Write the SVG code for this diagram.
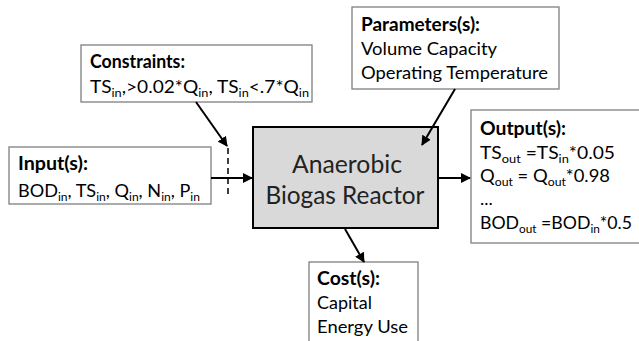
<svg xmlns="http://www.w3.org/2000/svg" width="639" height="341" viewBox="0 0 639 341">
<defs>
<style>
.box{fill:#fff;stroke:#7f7f7f;stroke-width:1.3}
.t{font-family:Lato,"Open Sans","Liberation Sans",sans-serif;font-size:18px;fill:#000}
.b{font-weight:bold}
.big{font-family:Lato,"Open Sans","Liberation Sans",sans-serif;font-size:25px;fill:#222}
.c{stroke:#000;stroke-width:2;fill:none}
.s{font-size:12px}
</style>
<marker id="ah" viewBox="0 0 10 10" refX="9" refY="5" markerWidth="10" markerHeight="10" markerUnits="userSpaceOnUse" orient="auto">
<path d="M0,0 L10,5 L0,10 z" fill="#000"/>
</marker>
</defs>
<rect width="639" height="341" fill="#fff"/>
<g id="reactor">
<rect x="253" y="127" width="185" height="101" fill="#d9d9d9" stroke="#000" stroke-width="2"/>
<text class="big" x="347" y="173" text-anchor="middle" textLength="110" lengthAdjust="spacingAndGlyphs">Anaerobic</text>
<text class="big" x="345" y="204" text-anchor="middle" textLength="159" lengthAdjust="spacingAndGlyphs">Biogas Reactor</text>
</g>
<g id="input">
<rect class="box" x="9" y="147" width="202" height="57"/>
<text class="t b" x="18" y="170" textLength="70" lengthAdjust="spacingAndGlyphs">Input(s):</text>
<text class="t" x="18" y="197" textLength="182" lengthAdjust="spacingAndGlyphs">BOD<tspan class="s" dy="4">in</tspan><tspan dy="-4">, TS</tspan><tspan class="s" dy="4">in</tspan><tspan dy="-4">, Q</tspan><tspan class="s" dy="4">in</tspan><tspan dy="-4">, N</tspan><tspan class="s" dy="4">in</tspan><tspan dy="-4">, P</tspan><tspan class="s" dy="4">in</tspan></text>
</g>
<g id="constraints">
<rect class="box" x="81" y="45" width="231" height="57"/>
<text class="t b" x="90" y="68" textLength="95" lengthAdjust="spacingAndGlyphs">Constraints:</text>
<text class="t" x="90" y="93" textLength="219" lengthAdjust="spacingAndGlyphs">TS<tspan class="s" dy="4">in</tspan><tspan dy="-4">,&gt;0.02*Q</tspan><tspan class="s" dy="4">in</tspan><tspan dy="-4">, TS</tspan><tspan class="s" dy="4">in</tspan><tspan dy="-4">&lt;.7*Q</tspan><tspan class="s" dy="4">in</tspan></text>
</g>
<g id="parameters">
<rect class="box" x="352" y="7" width="207" height="82"/>
<text class="t b" x="361" y="31" textLength="119" lengthAdjust="spacingAndGlyphs">Parameters(s):</text>
<text class="t" x="361" y="55" textLength="136" lengthAdjust="spacingAndGlyphs">Volume Capacity</text>
<text class="t" x="361" y="79" textLength="187" lengthAdjust="spacingAndGlyphs">Operating Temperature</text>
</g>
<g id="output">
<rect class="box" x="471" y="110" width="180" height="133"/>
<text class="t b" x="480" y="135" textLength="86" lengthAdjust="spacingAndGlyphs">Output(s):</text>
<text class="t" x="480" y="159" textLength="135" lengthAdjust="spacingAndGlyphs">TS<tspan class="s" dy="4">out</tspan><tspan dy="-4"> =TS</tspan><tspan class="s" dy="4">in</tspan><tspan dy="-4">*0.05</tspan></text>
<text class="t" x="480" y="182" textLength="130" lengthAdjust="spacingAndGlyphs">Q<tspan class="s" dy="4">out</tspan><tspan dy="-4"> = Q</tspan><tspan class="s" dy="4">out</tspan><tspan dy="-4">*0.98</tspan></text>
<text class="t" x="480" y="205">...</text>
<text class="t" x="480" y="229" textLength="152" lengthAdjust="spacingAndGlyphs">BOD<tspan class="s" dy="4">out</tspan><tspan dy="-4"> =BOD</tspan><tspan class="s" dy="4">in</tspan><tspan dy="-4">*0.5</tspan></text>
</g>
<g id="cost">
<rect class="box" x="309" y="262" width="109" height="90"/>
<text class="t b" x="317" y="285" textLength="63" lengthAdjust="spacingAndGlyphs">Cost(s):</text>
<text class="t" x="317" y="309" textLength="55" lengthAdjust="spacingAndGlyphs">Capital</text>
<text class="t" x="317" y="333" textLength="91" lengthAdjust="spacingAndGlyphs">Energy Use</text>
</g>
<g id="connectors">
<line class="c" x1="211" y1="178" x2="252" y2="178" marker-end="url(#ah)"/>
<line x1="228" y1="148" x2="228" y2="198" stroke="#000" stroke-width="1.5" stroke-dasharray="6,4"/>
<line class="c" x1="196" y1="102" x2="227" y2="146" marker-end="url(#ah)"/>
<line class="c" x1="455" y1="89" x2="422" y2="145" marker-end="url(#ah)"/>
<line class="c" x1="438" y1="178" x2="470" y2="178" marker-end="url(#ah)"/>
<line class="c" x1="345" y1="229" x2="364" y2="262" marker-end="url(#ah)"/>
</g>
</svg>
